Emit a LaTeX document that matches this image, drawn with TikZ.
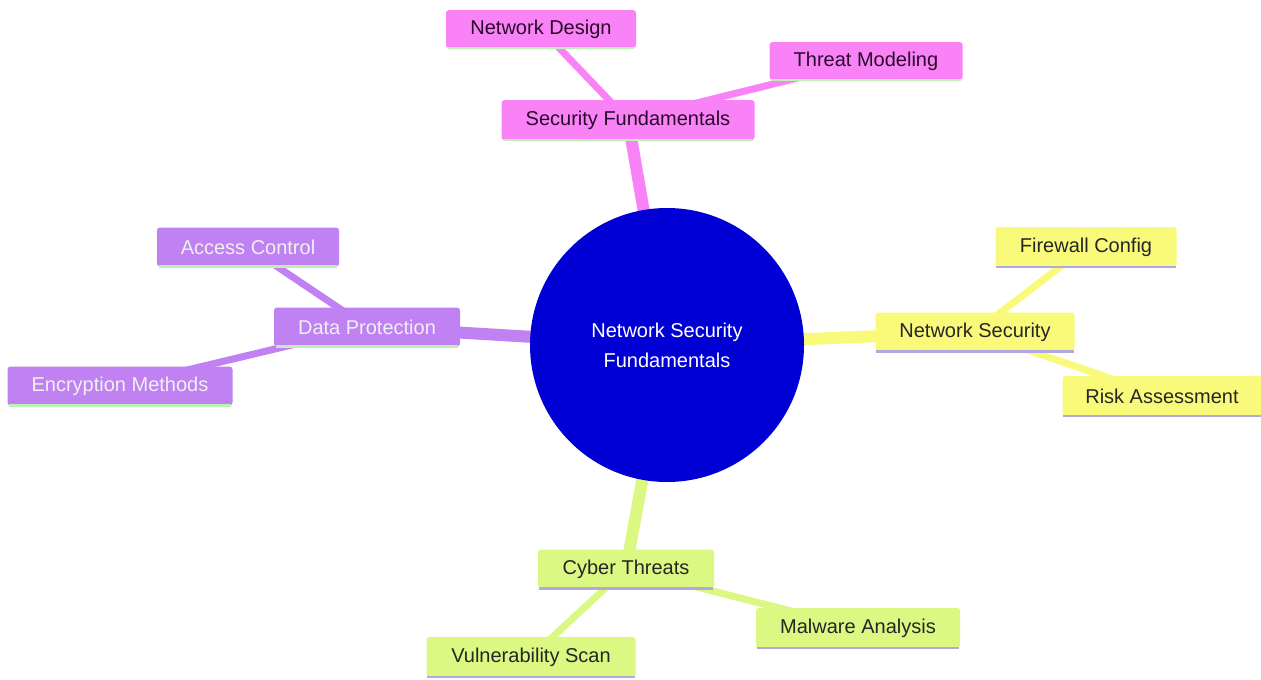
\documentclass[tikz,border=0pt]{standalone}
\usepackage{fontspec}
\setmainfont{Liberation Sans}
\usetikzlibrary{backgrounds}
\definecolor{cpink}{RGB}{249,130,247}
\definecolor{cpurple}{RGB}{192,130,242}
\definecolor{cyellow}{RGB}{250,250,122}
\definecolor{cgreen}{RGB}{218,248,130}
\definecolor{cblue}{RGB}{0,0,212}
\definecolor{lgreen}{RGB}{190,240,180}
\definecolor{lviolet}{RGB}{176,168,222}
\definecolor{darktxt}{RGB}{40,10,40}
\tikzset{
  every node/.style={font=\fontsize{20}{24}\selectfont},
  box/.style={rectangle, rounded corners=3pt, inner sep=0pt, draw=none},
  pinkbox/.style={box, fill=cpink, text=darktxt},
  purplebox/.style={box, fill=cpurple, text=white!94!black},
  yellowbox/.style={box, fill=cyellow, text=black!85},
  greenbox/.style={box, fill=cgreen, text=black!85},
  mainlink/.style={line width=12pt},
  leaflink/.style={line width=7pt},
  under/.style={line width=2.5pt}
}
\begin{document}
\begin{tikzpicture}[x=1pt,y=-1pt]
\useasboundingbox (0,0) rectangle (1261,680);
% root
\node[circle, fill=cblue, minimum size=274pt, inner sep=0pt, text=white, align=center,
      font=\fontsize{20}{30}\selectfont] (root) at (667,345) {Network Security\\ Fundamentals};
% pink branch
\node[pinkbox, minimum width=253pt, minimum height=40pt] (sf) at (628,120) {Security Fundamentals};
\node[pinkbox, minimum width=190pt, minimum height=38pt] (nd) at (541,29) {Network Design};
\node[pinkbox, minimum width=193pt, minimum height=38pt] (tm) at (866,61) {Threat Modeling};
% purple branch
\node[purplebox, minimum width=186pt, minimum height=39pt] (dp) at (367,327) {Data Protection};
\node[purplebox, minimum width=182pt, minimum height=39pt] (ac) at (248,247) {Access Control};
\node[purplebox, minimum width=225pt, minimum height=39pt] (em) at (120,386) {Encryption Methods};
% yellow branch
\node[yellowbox, minimum width=199pt, minimum height=39pt] (ns) at (975,332) {Network Security};
\node[yellowbox, minimum width=181pt, minimum height=40pt] (fc) at (1086,247) {Firewall Config};
\node[yellowbox, minimum width=199pt, minimum height=40pt] (ra) at (1162,396) {Risk Assessment};
% green branch
\node[greenbox, minimum width=176pt, minimum height=39pt] (ct) at (626,569) {Cyber Threats};
\node[greenbox, minimum width=209pt, minimum height=40pt] (vs) at (531,657) {Vulnerability Scan};
\node[greenbox, minimum width=204pt, minimum height=40pt] (ma) at (858,628) {Malware Analysis};
% underlines
\foreach \n in {sf,nd,tm,dp,ac,em}
  \draw[under, lgreen] ([xshift=2pt]\n.south west) -- ([xshift=-2pt]\n.south east);
\foreach \n in {ns,fc,ra,ct,vs,ma}
  \draw[under, lviolet] ([xshift=1pt]\n.south west) -- ([xshift=-1pt]\n.south east);
% connectors
\begin{scope}[on background layer]
\fill[white] (0,0) rectangle (1261,680);
\draw[mainlink, cpink] (root.center) -- (sf.center);
\draw[leaflink, cpink] (sf.center) -- (nd.center);
\draw[leaflink, cpink] (sf.center) -- (tm.center);
\draw[mainlink, cpurple] (root.center) -- (dp.center);
\draw[leaflink, cpurple] (dp.center) -- (ac.center);
\draw[leaflink, cpurple] (dp.center) -- (em.center);
\draw[mainlink, cyellow] (root.center) -- (ns.center);
\draw[leaflink, cyellow] (ns.center) -- (fc.center);
\draw[leaflink, cyellow] (ns.center) -- (ra.center);
\draw[mainlink, cgreen] (root.center) -- (ct.center);
\draw[leaflink, cgreen] (ct.center) -- (vs.center);
\draw[leaflink, cgreen] (ct.center) -- (ma.center);
\end{scope}
\end{tikzpicture}
\end{document}
